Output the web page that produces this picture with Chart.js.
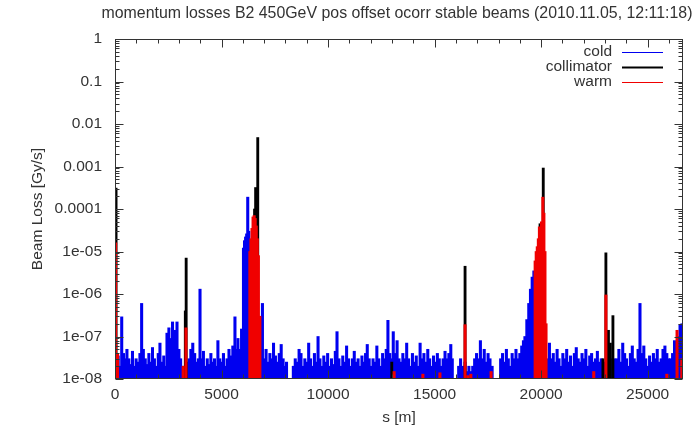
<!DOCTYPE html>
<html>
<head>
<meta charset="utf-8">
<script src="https://cdn.jsdelivr.net/npm/chart.js@4.4.1/dist/chart.umd.min.js"></script>
<style>
  html, body { margin: 0; padding: 0; background: #fff; }
  #wrap { width: 700px; height: 429px; }
</style>
</head>
<body>
<div id="wrap"><canvas id="lossChart" width="700" height="429"></canvas></div>
<script>
// s positions [m] and beam loss [Gy/s]
const coldS = [
  150, 240, 315, 400, 480, 560, 650, 730, 820, 900,
  990, 1080, 1170, 1250, 1330, 1420, 1500, 1590, 1680, 1760,
  1850, 1940, 2030, 2110, 2200, 2290, 2380, 2440, 2530, 2610,
  2700, 2790, 2870, 2910, 3000, 3080, 3170, 3420, 3480, 3560,
  3650, 3740, 3830, 3910, 3990, 4070, 4150, 4240, 4330, 4410,
  4500, 4590, 4670, 4750, 4830, 4920, 5000, 5090, 5180, 5260,
  5350, 5440, 5530, 5630, 5700, 5770, 5860, 5940, 6030, 6080,
  6130, 6180, 6230, 6280, 6920, 7000, 7090, 7180, 7270, 7360,
  7440, 7530, 7620, 7710, 7800, 7890, 7980, 8050, 8370, 8460,
  8550, 8640, 8730, 8820, 8910, 9000, 9090, 9180, 9270, 9360,
  9450, 9530, 9620, 9710, 9800, 9890, 9980, 10070, 10160, 10250,
  10340, 10420, 10510, 10600, 10690, 10780, 10870, 10960, 11050, 11140,
  11230, 11320, 11410, 11500, 11590, 11680, 11760, 11840, 11930, 12020,
  12110, 12200, 12290, 12380, 12470, 12560, 12650, 12730, 12810, 12900,
  12980, 13060, 13150, 13240, 13330, 13420, 13510, 13600, 13690, 13780,
  13870, 13960, 14050, 14140, 14230, 14320, 14410, 14500, 14590, 14680,
  14770, 14860, 14950, 15040, 15130, 15220, 15310, 15400, 15490, 15580,
  15670, 15760, 15830, 16130, 16220, 16310, 16430, 16520, 16610, 16700,
  16790, 16880, 16970, 17060, 17150, 17240, 17330, 17420, 17510, 17600,
  17700, 18100, 18190, 18280, 18370, 18460, 18550, 18640, 18730, 18820,
  18910, 19000, 19090, 19170, 19240, 19330, 19420, 19500, 19580, 19660,
  19730, 20300, 20390, 20480, 20570, 20660, 20750, 20840, 20930, 21020,
  21110, 21200, 21290, 21380, 21470, 21560, 21650, 21740, 21830, 21920,
  22010, 22100, 22190, 22280, 22370, 22460, 22550, 22640, 22730, 22820,
  22960, 23250, 23450, 23560, 23650, 23740, 23830, 23920, 24010, 24100,
  24190, 24280, 24370, 24460, 24550, 24640, 24730, 24820, 24910, 25000,
  25090, 25180, 25270, 25360, 25450, 25540, 25630, 25720, 25810, 25900,
  25990, 26080, 26170, 26260, 26350, 26440, 26520, 26610
];
const coldLoss = [
  3.5e-8, 2e-8, 2.9e-7, 4e-8, 3e-8, 5e-8, 3e-8, 2.2e-8, 4.5e-8, 2e-8,
  3e-8, 2.5e-8, 4e-8, 6e-7, 5e-8, 3e-8, 2.2e-8, 4e-8, 2.5e-8, 5.5e-8,
  3e-8, 2e-8, 4e-8, 7e-8, 2.5e-8, 3.5e-8, 2e-8, 1.2e-7, 1.6e-7, 9e-8,
  2.2e-7, 1.4e-7, 5e-8, 2.2e-7, 5e-8, 3e-8, 2e-8, 2.5e-8, 3e-8, 5e-8,
  7e-8, 4e-8, 2.5e-8, 3e-8, 1.3e-6, 3e-8, 4.5e-8, 2e-8, 3e-8, 2.2e-8,
  4e-8, 2.5e-8, 3e-8, 2e-8, 8e-8, 3e-8, 2.5e-8, 4e-8, 2e-8, 3e-8,
  5e-8, 3.5e-8, 6e-8, 2.9e-7, 5e-8, 9e-8, 5e-8, 1.5e-7, 1.2e-5, 1.8e-5,
  2.2e-5, 2.6e-5, 1.9e-4, 3e-5, 6e-7, 3e-8, 5e-8, 2.5e-8, 4e-8, 3e-8,
  7e-8, 3.5e-8, 2.5e-8, 4e-8, 6.5e-8, 3e-8, 2e-8, 2.5e-8, 2e-8, 3e-8,
  2.5e-8, 5e-8, 4e-8, 2e-8, 3e-8, 2.5e-8, 7e-8, 3e-8, 2e-8, 4e-8,
  2.5e-8, 1e-7, 3e-8, 2e-8, 3.5e-8, 2.5e-8, 4e-8, 2e-8, 3e-8, 2.2e-8,
  4.5e-8, 1.3e-7, 3e-8, 2e-8, 3.5e-8, 2.5e-8, 6e-8, 3e-8, 2e-8, 3e-8,
  4.5e-8, 2.5e-8, 3e-8, 2e-8, 3.5e-8, 2.5e-8, 4e-8, 6.5e-8, 3e-8, 2e-8,
  3e-8, 2.5e-8, 6e-8, 3e-8, 2e-8, 4e-8, 3e-8, 5e-8, 2.4e-7, 4e-8,
  3e-8, 1.3e-7, 4e-8, 8e-8, 3e-8, 2.5e-8, 4e-8, 3e-8, 7e-8, 3e-8,
  2e-8, 4e-8, 2.5e-8, 3.5e-8, 2e-8, 7e-8, 3e-8, 4e-8, 2.5e-8, 5e-8,
  3e-8, 2e-8, 3.5e-8, 2.5e-8, 4e-8, 3e-8, 2e-8, 3e-8, 4.5e-8, 3e-8,
  4e-8, 6.5e-8, 3e-8, 2e-8, 3e-8, 2e-8, 2.5e-8, 1.5e-8, 2e-8, 1.5e-8,
  2e-8, 3e-8, 4e-8, 3e-8, 8e-8, 3e-8, 5e-8, 2.5e-8, 4e-8, 3e-8,
  2e-8, 3e-8, 4e-8, 2.5e-8, 5e-8, 3e-8, 2e-8, 4e-8, 3e-8, 5e-8,
  3e-8, 4e-8, 6e-8, 8e-8, 1e-7, 2.5e-7, 6e-7, 1.3e-6, 2.5e-6, 3.5e-6,
  3e-6, 3e-8, 7e-8, 3e-8, 4e-8, 2.5e-8, 5e-8, 3e-8, 2e-8, 4e-8,
  3e-8, 5e-8, 2.5e-8, 3.5e-8, 2e-8, 4e-8, 5.5e-8, 3e-8, 2.5e-8, 4e-8,
  3e-8, 5e-8, 2e-8, 3.5e-8, 4e-8, 2.5e-8, 3e-8, 4.5e-8, 2.5e-8, 3e-8,
  2.5e-8, 3e-8, 3e-8, 3e-8, 5e-8, 2.5e-8, 7e-8, 4e-8, 3e-8, 2e-8,
  4e-8, 6e-8, 3e-8, 2.5e-8, 5e-8, 6e-7, 4e-8, 6e-8, 3e-8, 2e-8,
  3.5e-8, 2.5e-8, 4e-8, 3e-8, 5e-8, 2.5e-8, 3e-8, 5e-8, 6e-8, 4e-8,
  3e-8, 3e-8, 4e-8, 8e-8, 5e-8, 1e-7, 1.9e-7, 2e-7
];

const collimatorS = [50, 3300, 3340, 6550, 6600, 6700, 12990, 16430, 19800, 19950, 20100, 22900, 23040, 23160, 23250, 23370];
const collimatorLoss = [3.1e-4, 4e-7, 7e-6, 1e-4, 3.2e-4, 4.8e-3, 2.5e-8, 4.5e-6, 9e-6, 4.5e-5, 9.2e-4, 3e-8, 9.3e-6, 1.4e-7, 7e-8, 3.1e-7];

const warmS = [
  30, 120, 3200, 3330, 6330, 6380, 6430, 6480, 6530, 6580,
  6630, 6680, 6730, 6800, 13100, 14450, 15250, 16430, 16560, 16700,
  17650, 19720, 19770, 19820, 19870, 19920, 19970, 20020, 20080, 20130,
  20180, 20230, 22470, 23040, 25900, 26380, 26600
];
const warmLoss = [
  1.6e-5, 4e-8, 2e-8, 1.6e-7, 1e-5, 2e-5, 3.5e-5, 6.5e-5, 7e-5, 6e-5,
  4e-5, 2e-5, 8e-6, 3e-7, 1.5e-8, 1.3e-8, 1.4e-8, 1.9e-7, 1.2e-8, 1.3e-8,
  1.5e-8, 6e-6, 1e-5, 1.3e-5, 2e-5, 3.8e-5, 3e-5, 5e-5, 1.9e-4, 8e-5,
  1e-5, 2e-7, 1.5e-8, 9.5e-7, 1.3e-8, 1.4e-7, 3e-8
];

const seriesNames = ["cold", "collimator", "warm"];
const seriesColors = ["#0000f0", "#000000", "#f00000"];

const xTickValues = [0, 5000, 10000, 15000, 20000, 25000];
const yTickValues = [1e-8, 1e-7, 1e-6, 1e-5, 1e-4, 1e-3, 1e-2, 1e-1, 1];
const yTickLabels = ["1e-08", "1e-07", "1e-06", "1e-05", "0.0001", "0.001", "0.01", "0.1", "1"];
const ringLength = 26659;
const chartTitle = "momentum losses B2 450GeV pos offset ocorr stable beams (2010.11.05, 12:11:18)";

const textColor = "#333";
const fontFamily = "'Liberation Sans', Arial, sans-serif";
Chart.defaults.font.family = fontFamily;
Chart.defaults.font.size = 15.5;
Chart.defaults.color = textColor;

function toPoints(sArr, vArr) {
    return sArr.map((s, i) => ({ x: s, y: vArr[i] }));
}

// gnuplot style title, border, inward ticks and key
const gnuplotFrame = {
    id: "gnuplotFrame",
    afterDatasetsDraw(chart) {
        const { ctx, chartArea: a, scales } = chart;
        const xs = scales.x;
        const ys = scales.y;
        const left = a.left + 0.5, right = a.right - 0.5;
        const top = a.top + 0.5, bottom = a.bottom - 0.5;

        ctx.save();
        ctx.strokeStyle = textColor;
        ctx.lineWidth = 1;
        ctx.beginPath();
        const yTick = (v, len) => {
            const py = Math.round(ys.getPixelForValue(v)) + 0.5;
            ctx.moveTo(left, py); ctx.lineTo(left + len, py);
            ctx.moveTo(right, py); ctx.lineTo(right - len, py);
        };
        const xTick = (v, len) => {
            const px = Math.round(xs.getPixelForValue(v)) + 0.5;
            ctx.moveTo(px, bottom); ctx.lineTo(px, bottom - len);
            ctx.moveTo(px, top); ctx.lineTo(px, top + len);
        };
        yTickValues.forEach((v) => yTick(v, 8));
        yTickValues.slice(0, -1).forEach((d) => {
            for (let m = 2; m <= 9; m++) yTick(d * m, 4);
        });
        xTickValues.forEach((v) => xTick(v, 8));
        for (let s = 1000; s < ringLength; s += 1000) {
            if (s % 5000 !== 0) xTick(s, 4);
        }
        ctx.stroke();
        ctx.strokeRect(left, top, right - left, bottom - top);

        // title
        ctx.fillStyle = textColor;
        ctx.textAlign = "center";
        ctx.textBaseline = "middle";
        ctx.font = "15.9px " + fontFamily;
        ctx.fillText(chartTitle, 397, 14);

        // key
        ctx.font = "15.5px " + fontFamily;
        ctx.textAlign = "right";
        const rows = [12.5, 27.5, 43];
        seriesNames.forEach((name, i) => {
            const y = a.top + rows[i];
            ctx.fillStyle = textColor;
            ctx.fillText(name, a.right - 71, y);
            ctx.beginPath();
            ctx.strokeStyle = seriesColors[i];
            ctx.lineWidth = i === 1 ? 2 : 1.2;
            ctx.moveTo(a.right - 61, Math.round(y) + 0.5);
            ctx.lineTo(a.right - 20, Math.round(y) + 0.5);
            ctx.stroke();
        });
        ctx.restore();
    },
};

const barStyle = { stack: "all", base: 1e-8, borderWidth: 0 };

new Chart(document.getElementById("lossChart"), {
    type: "bar",
    data: {
        datasets: [
            Object.assign({ label: seriesNames[0], data: toPoints(coldS, coldLoss), backgroundColor: seriesColors[0], order: 3, barThickness: 2.4 }, barStyle),
            Object.assign({ label: seriesNames[1], data: toPoints(collimatorS, collimatorLoss), backgroundColor: seriesColors[1], order: 2, barThickness: 2.2 }, barStyle),
            Object.assign({ label: seriesNames[2], data: toPoints(warmS, warmLoss), backgroundColor: seriesColors[2], order: 1, barThickness: 2.4 }, barStyle),
        ],
    },
    options: {
        responsive: false,
        animation: false,
        devicePixelRatio: 1,
        layout: { padding: { left: 0, right: 17, top: 39, bottom: 0 } },
        plugins: {
            legend: { display: false },
            tooltip: { enabled: false },
            title: { display: false },
        },
        scales: {
            x: {
                type: "linear",
                stacked: true,
                offset: false,
                min: 0,
                max: ringLength,
                grid: { display: false, drawTicks: false, tickLength: 0 },
                border: { display: false },
                afterBuildTicks: (scale) => {
                    scale.ticks = xTickValues.map((v) => ({ value: v }));
                },
                ticks: { padding: 6, maxRotation: 0, callback: (v) => String(v) },
                title: { display: true, text: "s [m]", padding: { top: 0, bottom: 1.7 } },
                afterFit: (scale) => { scale.height = 50; },
            },
            y: {
                type: "logarithmic",
                stacked: false,
                min: 1e-8,
                max: 1,
                grid: { display: false, drawTicks: false, tickLength: 0 },
                border: { display: false },
                afterBuildTicks: (scale) => {
                    scale.ticks = yTickValues.map((v) => ({ value: v }));
                },
                ticks: { padding: 13, callback: (v, i) => yTickLabels[i] },
                title: { display: true, text: "Beam Loss [Gy/s]", padding: { top: 28, bottom: 0 } },
                afterFit: (scale) => { scale.width = 115; },
            },
        },
    },
    plugins: [gnuplotFrame],
});
</script>
</body>
</html>
